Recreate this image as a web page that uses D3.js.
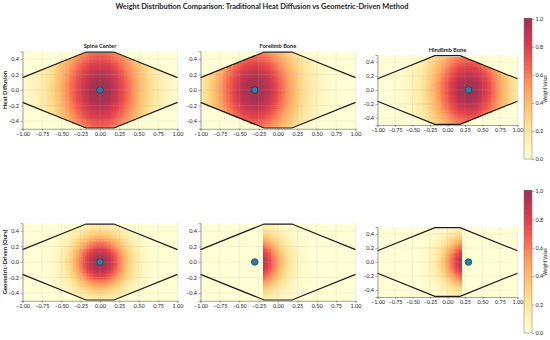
<!DOCTYPE html>
<html>
<head>
<meta charset="utf-8">
<script src="https://cdn.jsdelivr.net/npm/d3@7"></script>
<style>
  body { margin: 0; background: #fff; }
  text { font-family: Lato, "Open Sans", sans-serif; fill: #222; }
</style>
</head>
<body>
<div id="chart"></div>
<script>
// 1. DATA
// ======================================
var boneNames = ["Spine Center", "Forelimb Bone", "Hindlimb Bone"];
var boneX = [0.0, -0.3, 0.3];
var boneY = [0.0, 0.0, 0.0];
var rowLabels = ["Heat Diffusion", "Geometric-Driven (Ours)"];

// spread of the weight field (in axis units)
var heatSpreadX = [0.39, 0.38, 0.38];
var heatSpreadY = [0.52, 0.48, 0.48];
var oursSpread = [0.25, 0.25, 0.25];
// geometric method: only the side of the cut facing the body keeps weight
var oursCutMin = [-1.0, -0.2, -1.0];
var oursCutMax = [1.0, 1.0, 0.2];

// mesh outline
var outlineTop = [[-1.0, 0.16], [-0.18, 0.49], [0.18, 0.49], [1.0, 0.16]];
var outlineBottom = [[-1.0, -0.16], [-0.18, -0.49], [0.18, -0.49], [1.0, -0.16]];

var xTicks = [-1.0, -0.75, -0.5, -0.25, 0.0, 0.25, 0.5, 0.75, 1.0];
var yTicks = [-0.4, -0.2, 0.0, 0.2, 0.4];
var cbTicks = [0.0, 0.2, 0.4, 0.6, 0.8, 1.0];

// 2. SET UP SVG
// ======================================
var svgWidth = 550;
var svgHeight = 340;

var svg = d3.select("#chart")
  .append("svg")
  .attr("width", svgWidth)
  .attr("height", svgHeight);

var colX = [[22.5, 177.5], [200.5, 355.5], [377.5, 517.5]];
var rowCenter = [90, 262];
var cbTop = [19, 191];
var cbBottom = [159, 333];

var nx = 110, ny = 55;

function color(v) {
  return d3.interpolateRgb("#ffffff", d3.interpolateYlOrRd(v))(0.8);
}

var polygon = outlineTop.concat(outlineBottom.slice().reverse());

// title
svg.append("text")
  .attr("x", 262)
  .attr("y", 9)
  .attr("text-anchor", "middle")
  .attr("textLength", 293)
  .attr("lengthAdjust", "spacingAndGlyphs")
  .style("font-size", "8px")
  .style("font-weight", "bold")
  .text("Weight Distribution Comparison: Traditional Heat Diffusion vs Geometric-Driven Method");

// 3. PANELS
// ======================================
rowLabels.forEach(function(rowLabel, r) {
  boneNames.forEach(function(name, c) {
    var w = colX[c][1] - colX[c][0];
    var h = w / 2;
    var top = rowCenter[r] - h / 2;

    var xScale = d3.scaleLinear().domain([-1, 1]).range([colX[c][0], colX[c][1]]);
    var yScale = d3.scaleLinear().domain([-0.5, 0.5]).range([top + h, top]);

    var g = svg.append("g");

    // weight cells
    var cells = [];
    for (var i = 0; i < nx; i++) {
      for (var j = 0; j < ny; j++) {
        var x = -1 + (i + 0.5) * 2 / nx;
        var y = -0.5 + (j + 0.5) / ny;
        var dx = x - boneX[c], dy = y - boneY[c];
        var v = 0;
        if (d3.polygonContains(polygon, [x, y])) {
          if (r === 0) {
            v = Math.exp(-(dx * dx / (2 * heatSpreadX[c] * heatSpreadX[c]) +
                           dy * dy / (2 * heatSpreadY[c] * heatSpreadY[c])));
          } else if (x >= oursCutMin[c] && x <= oursCutMax[c]) {
            v = Math.exp(-(dx * dx + dy * dy) / (2 * oursSpread[c] * oursSpread[c]));
          }
        }
        cells.push({x0: -1 + i * 2 / nx, x1: -1 + (i + 1) * 2 / nx,
                    y0: -0.5 + j / ny, y1: -0.5 + (j + 1) / ny, v: v});
      }
    }

    g.append("g").selectAll("rect")
      .data(cells)
      .enter()
      .append("rect")
      .attr("x", d => xScale(d.x0))
      .attr("y", d => yScale(d.y1))
      .attr("width", d => xScale(d.x1) - xScale(d.x0) + 0.4)
      .attr("height", d => yScale(d.y0) - yScale(d.y1) + 0.4)
      .attr("fill", d => color(d.v))
      .attr("shape-rendering", "crispEdges");

    // grid
    var grid = g.append("g").attr("stroke", "#b0b0b0").attr("stroke-opacity", 0.35).attr("stroke-width", 0.5);
    grid.selectAll(".gx").data(xTicks).enter().append("line")
      .attr("x1", d => xScale(d)).attr("x2", d => xScale(d))
      .attr("y1", top).attr("y2", top + h);
    grid.selectAll(".gy").data(yTicks).enter().append("line")
      .attr("y1", d => yScale(d)).attr("y2", d => yScale(d))
      .attr("x1", colX[c][0]).attr("x2", colX[c][1]);

    // outline
    var line = d3.line().x(d => xScale(d[0])).y(d => yScale(d[1]));
    [outlineTop, outlineBottom].forEach(function(o) {
      g.append("path")
        .attr("d", line(o))
        .attr("fill", "none")
        .attr("stroke", "#1f1a14")
        .attr("stroke-width", 1.2);
    });

    // bone marker
    g.append("circle")
      .attr("cx", xScale(boneX[c]))
      .attr("cy", yScale(boneY[c]))
      .attr("r", 3.3)
      .attr("fill", "#2b7fa6")
      .attr("stroke", "#1d3d4f")
      .attr("stroke-width", 0.8);

    // axes
    var xAxis = g.append("g")
      .attr("transform", `translate(0, ${top + h})`)
      .call(d3.axisBottom(xScale).tickValues(xTicks).tickFormat(d3.format(".2f")).tickSize(2).tickPadding(1.5));
    var yAxis = g.append("g")
      .attr("transform", `translate(${colX[c][0]}, 0)`)
      .call(d3.axisLeft(yScale).tickValues(yTicks).tickFormat(d3.format(".1f")).tickSize(2).tickPadding(1.5));
    [xAxis, yAxis].forEach(function(a) {
      a.selectAll("text").style("font-size", "5.5px").attr("fill", "#222");
      a.selectAll("line").attr("stroke", "#555").attr("stroke-width", 0.5);
      a.select(".domain").attr("stroke", "#666").attr("stroke-width", 0.6);
    });

    if (r === 0) {
      g.append("text")
        .attr("x", (colX[c][0] + colX[c][1]) / 2)
        .attr("y", top - 3)
        .attr("text-anchor", "middle")
        .style("font-size", "5.7px")
        .style("font-weight", "bold")
        .text(name);
    }
    if (c === 0) {
      g.append("text")
        .attr("transform", `translate(7, ${rowCenter[r]}) rotate(-90)`)
        .attr("text-anchor", "middle")
        .style("font-size", "5.9px")
        .style("font-weight", "bold")
        .text(rowLabel);
    }
  });

  // colorbar
  var cbScale = d3.scaleLinear().domain([0, 1]).range([cbBottom[r], cbTop[r]]);
  var cb = svg.append("g");
  var steps = d3.range(0, 100).map(k => k / 99);
  cb.selectAll("rect")
    .data(steps)
    .enter()
    .append("rect")
    .attr("x", 524)
    .attr("y", d => cbScale(d) - (cbBottom[r] - cbTop[r]) / 99)
    .attr("width", 8)
    .attr("height", (cbBottom[r] - cbTop[r]) / 99 + 0.6)
    .attr("fill", d => color(d))
    .attr("shape-rendering", "crispEdges");
  cb.append("rect")
    .attr("x", 524).attr("y", cbTop[r])
    .attr("width", 8).attr("height", cbBottom[r] - cbTop[r])
    .attr("fill", "none").attr("stroke", "#777").attr("stroke-width", 0.5);
  var cbAxis = cb.append("g")
    .attr("transform", "translate(532, 0)")
    .call(d3.axisRight(cbScale).tickValues(cbTicks).tickFormat(d3.format(".1f")).tickSize(2).tickPadding(1.5));
  cbAxis.select(".domain").remove();
  cbAxis.selectAll("text").style("font-size", "5.5px").attr("fill", "#222");
  cbAxis.selectAll("line").attr("stroke", "#555").attr("stroke-width", 0.5);
  cb.append("text")
    .attr("transform", `translate(546.5, ${(cbTop[r] + cbBottom[r]) / 2}) rotate(-90)`)
    .attr("text-anchor", "middle")
    .style("font-size", "4.7px")
    .text("Weight Value");
});
</script>
</body>
</html>
